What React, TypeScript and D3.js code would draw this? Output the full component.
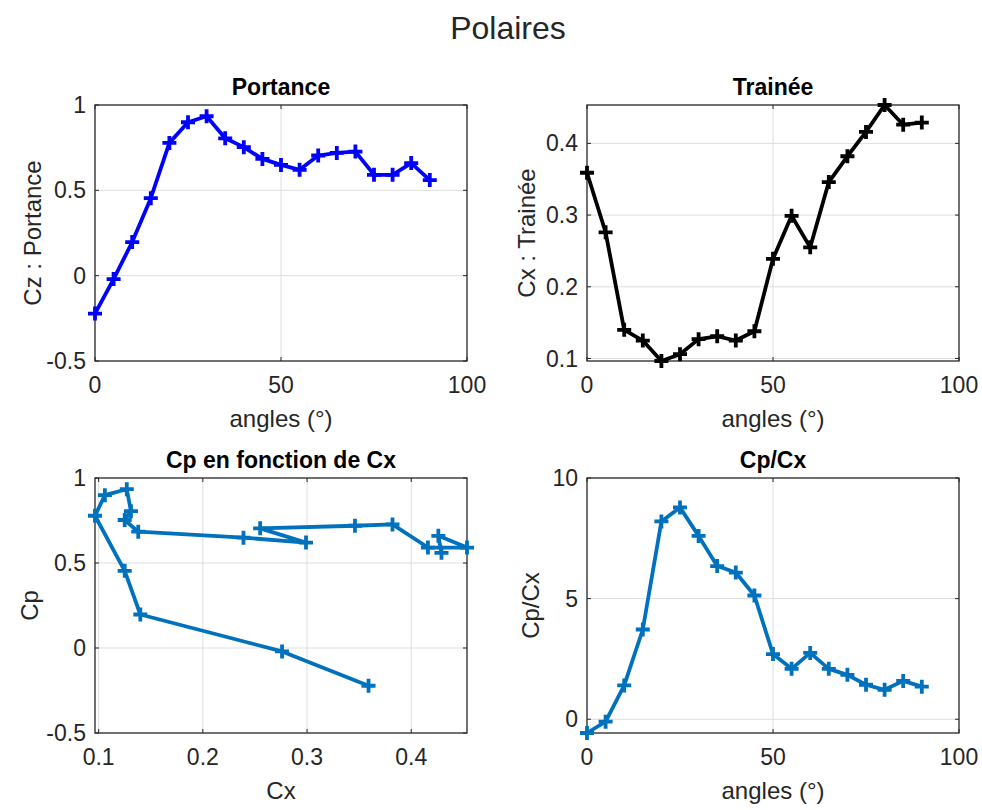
import React, { useEffect, useRef } from "react";
import * as d3 from "d3";

// angle d'attaque (deg)
const angles = [0, 5, 10, 15, 20, 25, 30, 35, 40, 45, 50, 55, 60, 65, 70, 75, 80, 85, 90];
// coefficient de portance
const cz = [-0.222, -0.02, 0.197, 0.454, 0.778, 0.899, 0.934, 0.805, 0.753, 0.684, 0.649, 0.62, 0.704, 0.719, 0.727, 0.591, 0.591, 0.66, 0.56];
// coefficient de trainee
const cx = [0.359, 0.276, 0.14, 0.125, 0.0965, 0.106, 0.127, 0.131, 0.125, 0.138, 0.239, 0.299, 0.255, 0.346, 0.382, 0.416, 0.4535, 0.426, 0.429];
// finesse Cp/Cx
const cpcx = [-0.57, -0.1, 1.4, 3.72, 8.2, 8.78, 7.6, 6.35, 6.08, 5.13, 2.7, 2.09, 2.75, 2.09, 1.84, 1.43, 1.22, 1.59, 1.35];

const angleTicks = [0, 50, 100];
const czTicks = [-0.5, 0, 0.5, 1];
const cxTicks = [0.1, 0.2, 0.3, 0.4];
const ratioTicks = [0, 5, 10];

const FONT = "'Liberation Sans', Arial, Helvetica, sans-serif";
const TXT = "#262626";

function drawPanel(svg, o) {
  const x = d3.scaleLinear().domain(o.xDomain).range([o.left, o.right]);
  const y = d3.scaleLinear().domain(o.yDomain).range([o.bottom, o.top]);
  const g = svg.append("g");

  // grille
  o.xTicks.forEach(t => {
    const px = x(t);
    if (px > o.left + 1 && px < o.right - 1)
      g.append("line").attr("x1", px).attr("x2", px).attr("y1", o.top).attr("y2", o.bottom)
        .attr("stroke", "#dedede").attr("stroke-width", 1);
  });
  o.yTicks.forEach(t => {
    const py = y(t);
    if (py > o.top + 1 && py < o.bottom - 1)
      g.append("line").attr("x1", o.left).attr("x2", o.right).attr("y1", py).attr("y2", py)
        .attr("stroke", "#dedede").attr("stroke-width", 1);
  });

  // graduations + etiquettes
  o.xTicks.forEach(t => {
    const px = x(t);
    g.append("line").attr("x1", px).attr("x2", px).attr("y1", o.bottom).attr("y2", o.bottom - 4).attr("stroke", TXT);
    g.append("line").attr("x1", px).attr("x2", px).attr("y1", o.top).attr("y2", o.top + 4).attr("stroke", TXT);
    g.append("text").attr("x", px).attr("y", o.bottom + 32)
      .attr("text-anchor", "middle").attr("font-size", 23).attr("font-family", FONT).attr("fill", TXT)
      .text(String(t));
  });
  o.yTicks.forEach(t => {
    const py = y(t);
    g.append("line").attr("x1", o.left).attr("x2", o.left + 4).attr("y1", py).attr("y2", py).attr("stroke", TXT);
    g.append("line").attr("x1", o.right).attr("x2", o.right - 4).attr("y1", py).attr("y2", py).attr("stroke", TXT);
    g.append("text").attr("x", o.left - 9).attr("y", py).attr("dy", "0.35em")
      .attr("text-anchor", "end").attr("font-size", 23).attr("font-family", FONT).attr("fill", TXT)
      .text(String(t));
  });

  g.append("rect").attr("x", o.left).attr("y", o.top)
    .attr("width", o.right - o.left).attr("height", o.bottom - o.top)
    .attr("fill", "none").attr("stroke", TXT).attr("stroke-width", 1.3);

  // courbe
  const pts = o.xs.map((v, i) => [x(v), y(o.ys[i])]);
  g.append("path").attr("d", d3.line()(pts))
    .attr("fill", "none").attr("stroke", o.color).attr("stroke-width", 3.8)
    .attr("stroke-linejoin", "round");
  g.selectAll(".mk").data(pts).enter().append("path")
    .attr("d", d => `M${d[0] - 7},${d[1]}H${d[0] + 7}M${d[0]},${d[1] - 7}V${d[1] + 7}`)
    .attr("stroke", o.color).attr("stroke-width", 3.8);

  g.append("text").attr("x", (o.left + o.right) / 2).attr("y", o.top - 10)
    .attr("text-anchor", "middle").attr("font-size", 23).attr("font-weight", "bold")
    .attr("font-family", FONT).attr("fill", "#000").text(o.title);
  g.append("text").attr("x", (o.left + o.right) / 2).attr("y", o.bottom + 66)
    .attr("text-anchor", "middle").attr("font-size", 24).attr("font-family", FONT).attr("fill", TXT)
    .text(o.xlabel);
  g.append("text")
    .attr("transform", `translate(${o.left - o.ylabelOff},${(o.top + o.bottom) / 2}) rotate(-90)`)
    .attr("text-anchor", "middle").attr("font-size", 24).attr("font-family", FONT).attr("fill", TXT)
    .text(o.ylabel);
}

const App = () => {
  const ref = useRef(null);

  useEffect(() => {
    const svg = d3.select(ref.current);
    svg.selectAll("*").remove();

    svg.append("rect").attr("width", 982).attr("height", 810).attr("fill", "#fff");
    svg.append("text").attr("x", 508).attr("y", 39).attr("text-anchor", "middle")
      .attr("font-size", 32).attr("font-family", FONT).attr("fill", TXT).text("Polaires");

    const cxExt = d3.extent(cx);

    drawPanel(svg, {
      left: 95, right: 467, top: 105, bottom: 361,
      xDomain: [0, 100], yDomain: [-0.5, 1], xTicks: angleTicks, yTicks: czTicks,
      xs: angles, ys: cz, color: "#0000ff",
      title: "Portance", xlabel: "angles (°)", ylabel: "Cz : Portance", ylabelOff: 54,
    });
    drawPanel(svg, {
      left: 587, right: 959, top: 105, bottom: 361,
      xDomain: [0, 100], yDomain: cxExt, xTicks: angleTicks, yTicks: cxTicks,
      xs: angles, ys: cx, color: "#000000",
      title: "Trainée", xlabel: "angles (°)", ylabel: "Cx : Trainée", ylabelOff: 52,
    });
    drawPanel(svg, {
      left: 95, right: 467, top: 478, bottom: 733,
      xDomain: cxExt, yDomain: [-0.5, 1], xTicks: cxTicks, yTicks: czTicks,
      xs: cx, ys: cz, color: "#0072bd",
      title: "Cp en fonction de Cx", xlabel: "Cx", ylabel: "Cp", ylabelOff: 57,
    });
    drawPanel(svg, {
      left: 587, right: 959, top: 478, bottom: 733,
      xDomain: [0, 100], yDomain: [d3.min(cpcx), 10], xTicks: angleTicks, yTicks: ratioTicks,
      xs: angles, ys: cpcx, color: "#0072bd",
      title: "Cp/Cx", xlabel: "angles (°)", ylabel: "Cp/Cx", ylabelOff: 48,
    });
  }, []);

  return <svg ref={ref} width={982} height={810} style={{ position: "absolute", left: 0, top: 0 }} />;
};

export default App;
